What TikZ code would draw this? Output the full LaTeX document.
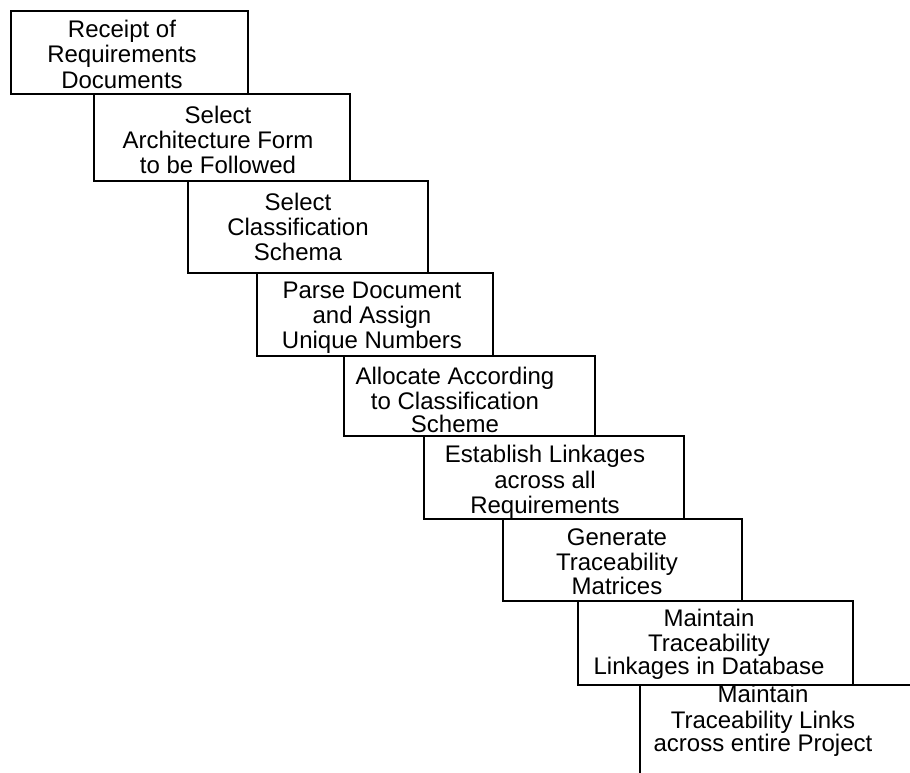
\documentclass[tikz,border=0pt]{standalone}
\usepackage{fontspec}
\setmainfont{Liberation Sans}
\begin{document}
\begin{tikzpicture}[x=1pt,y=-1pt,
  stepbox/.style={draw=black, line width=2.2pt, rectangle, inner sep=0pt, outer sep=0pt},
  steptext/.style={align=center, inner sep=0pt, font=\fontsize{24}{24.5}\selectfont}]
\useasboundingbox (0,0) rectangle (910,772);

% staircase of process steps
\node[stepbox, minimum width=237pt, minimum height=83pt] (b1) at (129.5,52.5) {};
\node[stepbox, minimum width=256pt, minimum height=87pt] (b2) at (222,137.5) {};
\node[stepbox, minimum width=240pt, minimum height=92pt] (b3) at (308,227) {};
\node[stepbox, minimum width=236pt, minimum height=83pt] (b4) at (375,314.5) {};
\node[stepbox, minimum width=251pt, minimum height=80pt] (b5) at (469.5,396) {};
\node[stepbox, minimum width=260pt, minimum height=83pt] (b6) at (554,477.5) {};
\node[stepbox, minimum width=239pt, minimum height=82pt] (b7) at (622.5,560) {};
\node[stepbox, minimum width=275pt, minimum height=84pt] (b8) at (715.5,643) {};
\begin{scope}
  \clip (0,0) rectangle (910,772);
  \node[stepbox, minimum width=320pt, minimum height=140pt] (b9) at (800,755) {};
\end{scope}

% step labels
\node[steptext, font=\fontsize{24}{25.5}\selectfont] (t1) at (122,57.8) {\strut Receipt of\\Requirements\\Documents\strut};
\node[steptext, font=\fontsize{24}{25}\selectfont] (t2) at (218,143) {\strut Select\\Architecture Form\\to be Followed\strut};
\node[steptext, font=\fontsize{24}{25}\selectfont] (t3) at (298,230) {\strut Select\\Classification\\Schema\strut};
\node[steptext, font=\fontsize{24}{25}\selectfont] (t4) at (372,318) {\strut Parse Document\\and Assign\\Unique Numbers\strut};
\node[steptext, font=\fontsize{24}{23}\selectfont] (t5) at (455,403) {\strut Allocate According\\to Classification\\Scheme\strut};
\node[steptext, font=\fontsize{24}{25.5}\selectfont] (t6) at (545,483) {\strut Establish Linkages\\across all\\Requirements\strut};
\node[steptext, font=\fontsize{24}{24}\selectfont] (t7) at (617,565) {\strut Generate\\Traceability\\Matrices\strut};
\node[steptext, font=\fontsize{24}{23}\selectfont] (t8) at (709,645) {\strut Maintain\\Traceability\\Linkages in Database\strut};
\node[steptext, font=\fontsize{24}{23.5}\selectfont] (t9) at (763,722) {\strut Maintain\\Traceability Links\\across entire Project\strut};
\end{tikzpicture}
\end{document}
